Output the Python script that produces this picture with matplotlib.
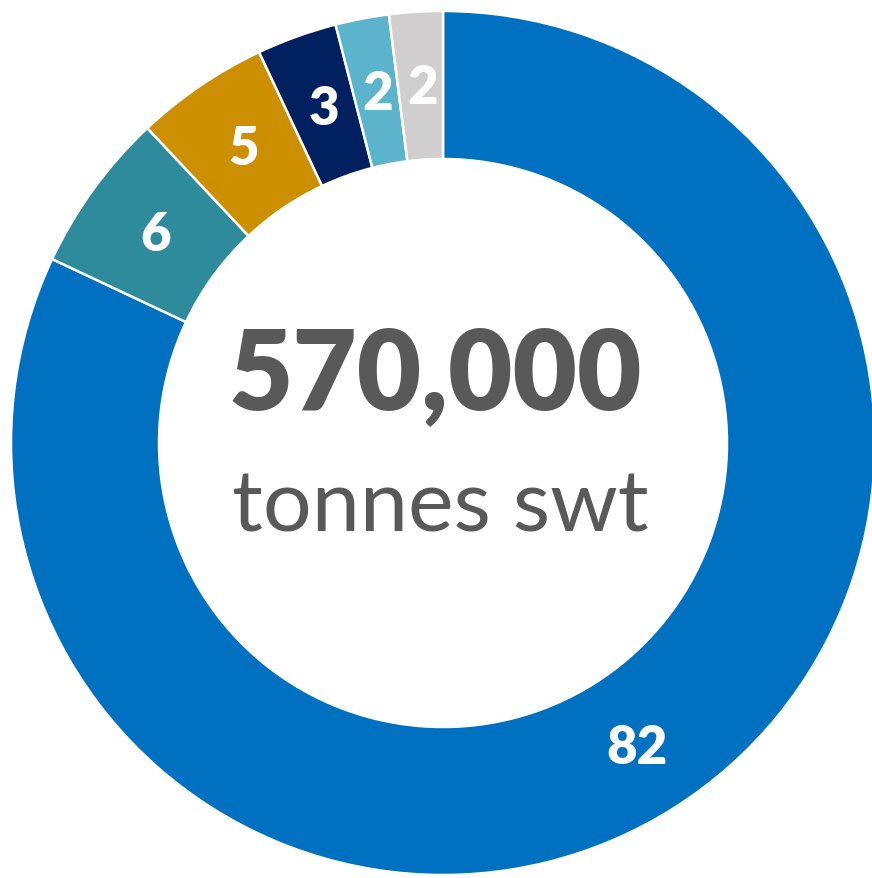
import numpy as np
import matplotlib.pyplot as plt

# shares (%) clockwise from 12 o'clock
values = [82, 6, 5, 3, 2, 2]
labels = ["82", "6", "5", "3", "2", "2"]
colors = ["#0070C0", "#2E8B9B", "#CC8F00", "#002060", "#5BB4CB", "#D0CECE"]
total_text = "570,000"
unit_text = "tonnes swt"

W, H = 872, 879
fig = plt.figure(figsize=(W / 100, H / 100), dpi=100)
ax = fig.add_axes([0, 0, 1, 1])

cx, cy = 443, H - 444
r_out, r_in = 432, 284

wedges, _ = ax.pie(values, colors=colors, startangle=90, counterclock=False,
                   radius=r_out, center=(cx, cy),
                   wedgeprops=dict(width=r_out - r_in, edgecolor="white", linewidth=1.8))

# value labels at middle of ring
r_mid = (r_out + r_in) / 2
for w, lab in zip(wedges, labels):
    ang = np.deg2rad((w.theta1 + w.theta2) / 2)
    ax.text(cx + r_mid * np.cos(ang) + 2, cy + r_mid * np.sin(ang) - 2, lab,
            ha="center", va="center", color="white", fontsize=38,
            fontweight="heavy", family="Lato")

ax.text(cx - 8, H - 376, total_text, ha="center", va="center", color="#595959",
        fontsize=80, fontweight="heavy", family="Lato")
ax.text(cx - 3, H - 508, unit_text, ha="center", va="center", color="#595959",
        fontsize=62, family="Lato")

ax.set_xlim(0, W)
ax.set_ylim(0, H)
ax.set_aspect("equal")
ax.axis("off")

fig.savefig("out.png", dpi=100)
